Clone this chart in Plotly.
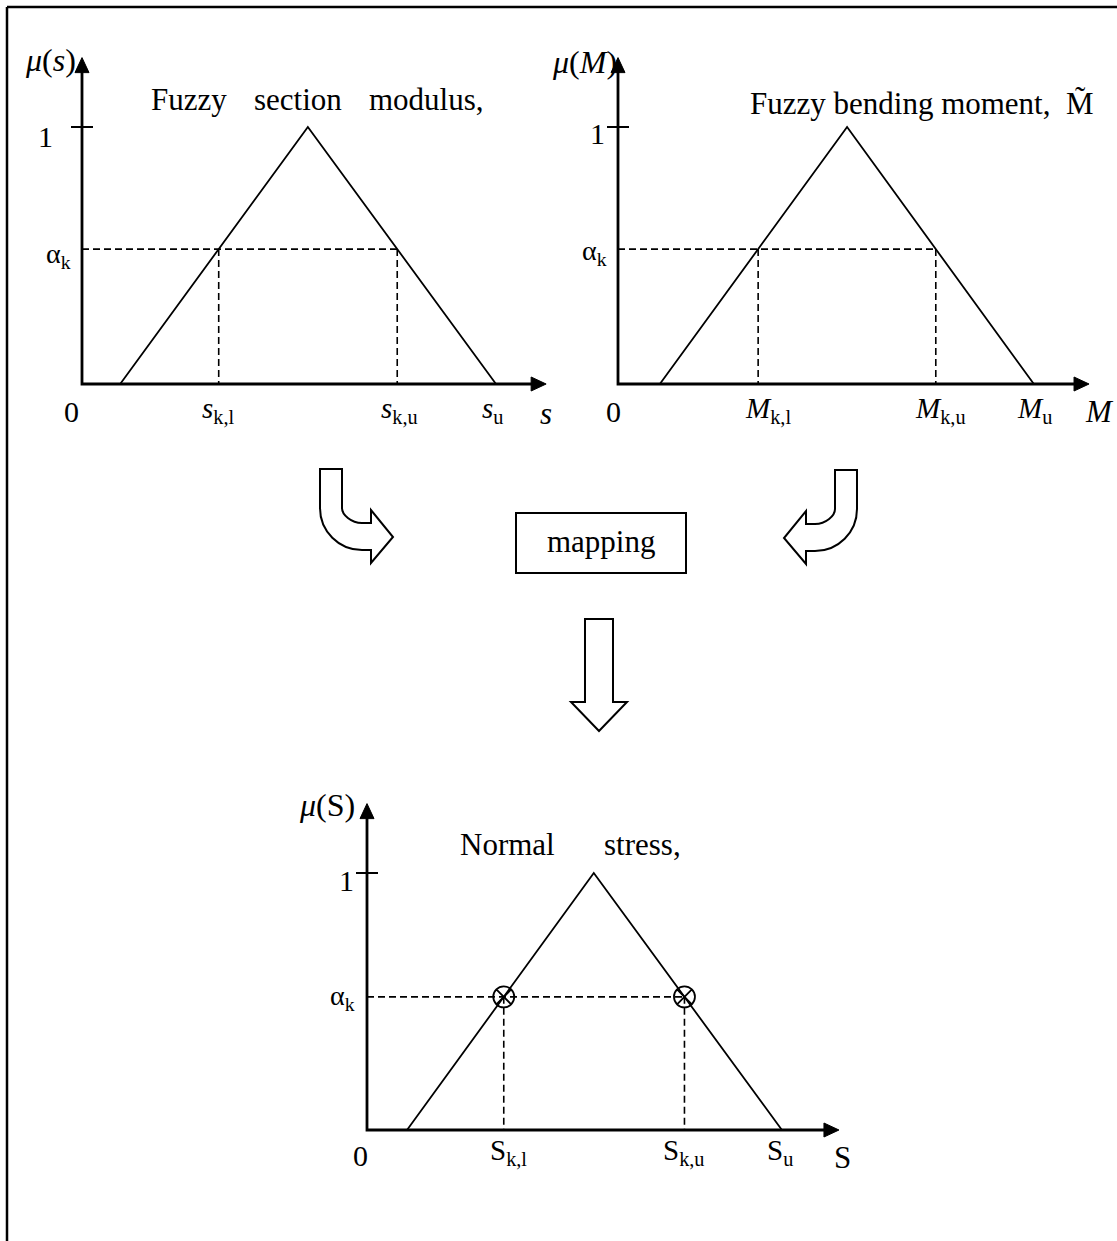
import plotly.graph_objects as go

W, H = 1117, 1241
FONT = "Liberation Serif, Times New Roman, serif"

# Triangular fuzzy numbers: (lower bound, modal value, upper bound)
section_modulus = [0.83, 4.91, 9.00]
bending_moment = [0.91, 4.98, 9.04]
normal_stress = [0.87, 4.93, 9.02]

# alpha-cut level drawn on each membership function
alpha_levels = [0.525, 0.525, 0.518]

# axis extents (arrow tips) in axis units
x_axis_ends = [10.09, 10.24, 10.26]
y_axis_end = 1.27

# axis / tick texts for each panel
y_titles = ["<i>μ</i>(<i>s</i>)", "<i>μ</i>(<i>M</i>)", "<i>μ</i>(S)"]
x_titles = ["<i>s</i>", "<i>M</i>", "S"]
cut_labels = [
    ["<i>s</i><sub>k,l</sub>", "<i>s</i><sub>k,u</sub>", "<i>s</i><sub>u</sub>"],
    ["<i>M</i><sub>k,l</sub>", "<i>M</i><sub>k,u</sub>", "<i>M</i><sub>u</sub>"],
    ["S<sub>k,l</sub>", "S<sub>k,u</sub>", "S<sub>u</sub>"],
]
alpha_label = "α<sub>k</sub>"
fuzzy_sets = [section_modulus, bending_moment, normal_stress]

# ---- layout geometry (pixels) ----
XU, YU = 46.0, 257.0                         # pixels per axis unit
origins = [(82, 384), (618, 384), (367, 1130)]
boxes = [(15, 20, 560, 440), (565, 20, 1115, 440), (290, 760, 880, 1190)]

# label offsets per panel (pixels): y-title, "1", alpha, "0", cut labels, x-title
offs = [
    dict(yt=(-32, -2), one=(-37, -10), al=(-9, -6), zero=(-11, -28),
         cuts=[(0, -26), (2, -26), (-4, -26)], xt=(0, -30)),
    dict(yt=(-34, -4), one=(-21, -7), al=(-9, -3), zero=(-5, -28),
         cuts=[(10, -26), (5, -26), (1, -26)], xt=(10, -28)),
    dict(yt=(-40, -1), one=(-21, -7), al=(-10, -1), zero=(-7, -25),
         cuts=[(5, -22), (0, -22), (-2, -22)], xt=(4, -27)),
]

fig = go.Figure()
layout_axes = {}
black = "black"


def label(text, xref, yref, x, y, xshift=0, yshift=0, size=28, xanchor="center"):
    fig.add_annotation(text=text, x=x, y=y, xref=xref, yref=yref,
                       xshift=xshift, yshift=yshift, showarrow=False,
                       xanchor=xanchor, yanchor="middle",
                       font=dict(family=FONT, size=size, color=black))


for i in range(3):
    sfx = "" if i == 0 else str(i + 1)
    xa, ya = "x" + sfx, "y" + sfx
    ox, oy = origins[i]
    x0, y0, x1, y1 = boxes[i]
    layout_axes["xaxis" + sfx] = dict(domain=[x0 / W, x1 / W],
                                      range=[(x0 - ox) / XU, (x1 - ox) / XU],
                                      visible=False, anchor=ya)
    layout_axes["yaxis" + sfx] = dict(domain=[1 - y1 / H, 1 - y0 / H],
                                      range=[(oy - y1) / YU, (oy - y0) / YU],
                                      visible=False, anchor=xa)

    a, m, b = fuzzy_sets[i]
    al = alpha_levels[i]
    xl = a + al * (m - a)
    xu = b - al * (b - m)
    xe = x_axis_ends[i]
    common = dict(xaxis=xa, yaxis=ya, hoverinfo="skip", showlegend=False)

    # alpha-cut guide lines
    fig.add_trace(go.Scatter(x=[0, xu, None, xl, xl, None, xu, xu],
                             y=[al, al, None, al, 0, None, al, 0],
                             mode="lines",
                             line=dict(color=black, width=1.6, dash="7px,4px"),
                             **common))
    # membership function
    fig.add_trace(go.Scatter(x=[a, m, b], y=[0, 1, 0], mode="lines",
                             line=dict(color=black, width=1.8), **common))
    # axes
    fig.add_trace(go.Scatter(x=[xe - 12 / XU, 0, 0],
                             y=[0, 0, y_axis_end - 12 / YU], mode="lines",
                             line=dict(color=black, width=2.8), **common))
    # arrow heads
    fig.add_trace(go.Scatter(
        x=[xe, xe - 15 / XU, xe - 15 / XU, xe, None,
           0, -7 / XU, 7 / XU, 0],
        y=[0, 7 / YU, -7 / YU, 0, None,
           y_axis_end, y_axis_end - 15 / YU, y_axis_end - 15 / YU, y_axis_end],
        mode="lines", fill="toself", fillcolor=black,
        line=dict(color=black, width=1), **common))
    # tick at membership 1
    fig.add_trace(go.Scatter(x=[-11 / XU, 11 / XU], y=[1, 1], mode="lines",
                             line=dict(color=black, width=2), **common))
    if i == 2:
        fig.add_trace(go.Scatter(x=[xl, xu], y=[al, al], mode="markers",
                                 marker=dict(symbol="circle-x-open", size=21,
                                             color=black,
                                             line=dict(color=black, width=1.8)),
                                 **common))

    o = offs[i]
    label(y_titles[i], xa, ya, 0, y_axis_end, *o["yt"], size=32)
    label("1", xa, ya, 0, 1, *o["one"], size=30)
    label(alpha_label, xa, ya, 0, al, *o["al"], size=28, xanchor="right")
    label("0", xa, ya, 0, 0, *o["zero"], size=30)
    for txt, xv, sh in zip(cut_labels[i], [xl, xu, b], o["cuts"]):
        label(txt, xa, ya, xv, 0, *sh, size=29)
    label(x_titles[i], xa, ya, xe, 0, *o["xt"], size=31)


def pp(x, y):
    return f"{x / W:.5f},{1 - y / H:.5f}"


def paper_label(text, x, y, size=31, xanchor="center"):
    fig.add_annotation(text=text, x=x / W, y=1 - y / H, xref="paper", yref="paper",
                       showarrow=False, xanchor=xanchor, yanchor="middle",
                       font=dict(family=FONT, size=size, color=black))


# panel captions
for word, cx in zip(["Fuzzy", "section", "modulus,"], [189, 298, 426]):
    paper_label(word, cx, 100)
paper_label("Fuzzy bending moment,\u00a0\u00a0M\u0303", 748, 103, xanchor="left")
for word, cx in zip(["Normal", "stress,"], [507, 642]):
    paper_label(word, cx, 844)

shapes = []
# outer frame
shapes.append(dict(type="line", xref="paper", yref="paper", x0=7 / W, y0=1 - 7 / H,
                   x1=1.01, y1=1 - 7 / H, line=dict(color=black, width=2.5)))
shapes.append(dict(type="line", xref="paper", yref="paper", x0=7 / W, y0=1 - 7 / H,
                   x1=7 / W, y1=-0.01, line=dict(color=black, width=2.5)))
# mapping box
shapes.append(dict(type="rect", xref="paper", yref="paper", x0=516 / W, y0=1 - 573 / H,
                   x1=686 / W, y1=1 - 513 / H, line=dict(color=black, width=2),
                   fillcolor="white"))
paper_label("mapping", 601, 541)


def build_path(cmds):
    parts = []
    for c, pts in cmds:
        parts.append(c + " ".join(pp(x, y) for x, y in pts))
    return " ".join(parts)


def bent_arrow(mirror=None, dy=0):
    pts = [
        ("M", [(320, 469)]), ("L", [(320, 508)]),
        ("C", [(320, 531.2), (338.8, 550), (362, 550)]),
        ("L", [(371, 550)]), ("L", [(371, 563)]), ("L", [(393, 537)]),
        ("L", [(371, 510)]), ("L", [(371, 523)]), ("L", [(362, 523)]),
        ("C", [(351, 523), (342, 514.7), (342, 508)]),
        ("L", [(342, 469)]), ("Z", []),
    ]
    if mirror is not None:
        pts = [(c, [(mirror - x, y + dy) for x, y in p]) for c, p in pts]
    return build_path(pts)


for path in [bent_arrow(), bent_arrow(mirror=1177, dy=1)]:
    shapes.append(dict(type="path", xref="paper", yref="paper", path=path,
                       line=dict(color=black, width=2), fillcolor="white"))

down = [("M", [(585, 619)]), ("L", [(613, 619)]), ("L", [(613, 702)]),
        ("L", [(627, 702)]), ("L", [(599, 731)]), ("L", [(571, 702)]),
        ("L", [(585, 702)]), ("Z", [])]
shapes.append(dict(type="path", xref="paper", yref="paper", path=build_path(down),
                   line=dict(color=black, width=2), fillcolor="white"))

fig.update_layout(
    width=W, height=H, margin=dict(l=0, r=0, t=0, b=0),
    paper_bgcolor="white", plot_bgcolor="white", showlegend=False,
    shapes=shapes, **layout_axes,
)

fig.write_html("out.html")
